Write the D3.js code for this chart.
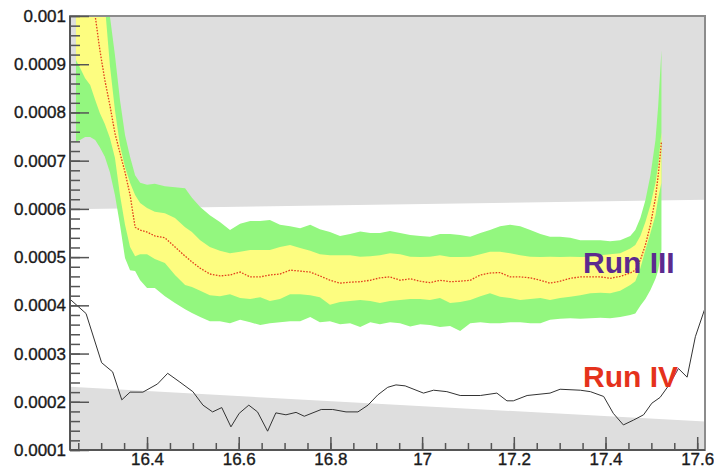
<!DOCTYPE html>
<html>
<head>
<meta charset="utf-8">
<script src="https://cdn.jsdelivr.net/npm/d3@7/dist/d3.min.js"></script>
<style>
  html, body { margin: 0; padding: 0; background: #fff; }
  svg { display: block; }
  text { font-family: "Liberation Sans", Arial, Helvetica, sans-serif; }
</style>
</head>
<body>
<svg id="chart" width="714" height="469"></svg>
<script>
// ---- data ---------------------------------------------------------------
// x positions of the expected-sensitivity band
const bandX = [16.245, 16.254, 16.265, 16.276, 16.287, 16.297, 16.308, 16.319, 16.330, 16.341,
  16.352, 16.363, 16.374, 16.385, 16.400, 16.417, 16.439, 16.461, 16.483, 16.498,
  16.516, 16.537, 16.559, 16.581, 16.603, 16.625, 16.647, 16.668, 16.690, 16.712,
  16.734, 16.756, 16.777, 16.799, 16.821, 16.843, 16.865, 16.887, 16.908, 16.930,
  16.952, 16.974, 16.996, 17.017, 17.039, 17.061, 17.083, 17.105, 17.127, 17.148,
  17.170, 17.192, 17.214, 17.236, 17.258, 17.279, 17.301, 17.323, 17.345, 17.367,
  17.389, 17.410, 17.432, 17.454, 17.465, 17.476, 17.487, 17.498, 17.509, 17.515, 17.522];

// +2 sigma (green, upper edge)
const green2Hi = [0.001120, 0.001120, 0.001120, 0.001120, 0.001120, 0.001095, 0.001054, 0.001000, 0.000919, 0.000826,
  0.000753, 0.000708, 0.000670, 0.000654, 0.000650, 0.000652, 0.000647, 0.000645, 0.000643, 0.000623,
  0.000604, 0.000587, 0.000573, 0.000556, 0.000569, 0.000575, 0.000575, 0.000577, 0.000567, 0.000564,
  0.000560, 0.000567, 0.000558, 0.000552, 0.000544, 0.000548, 0.000553, 0.000550, 0.000550, 0.000554,
  0.000550, 0.000546, 0.000544, 0.000542, 0.000548, 0.000548, 0.000546, 0.000542, 0.000550, 0.000556,
  0.000564, 0.000567, 0.000564, 0.000556, 0.000548, 0.000542, 0.000542, 0.000540, 0.000535, 0.000535,
  0.000535, 0.000533, 0.000535, 0.000544, 0.000556, 0.000581, 0.000618, 0.000670, 0.000743, 0.000815, 0.000929];

// +1 sigma (yellow, upper edge)
const yellow1Hi = [0.001075, 0.001075, 0.001075, 0.001075, 0.001075, 0.001064, 0.001023, 0.000898, 0.000805, 0.000732,
  0.000687, 0.000654, 0.000629, 0.000612, 0.000602, 0.000594, 0.000591, 0.000581, 0.000562, 0.000552,
  0.000535, 0.000521, 0.000513, 0.000508, 0.000511, 0.000515, 0.000515, 0.000515, 0.000521, 0.000525,
  0.000519, 0.000513, 0.000506, 0.000504, 0.000504, 0.000504, 0.000501, 0.000502, 0.000504, 0.000508,
  0.000506, 0.000501, 0.000500, 0.000501, 0.000504, 0.000500, 0.000500, 0.000501, 0.000506, 0.000511,
  0.000511, 0.000508, 0.000504, 0.000501, 0.000500, 0.000501, 0.000500, 0.000501, 0.000500, 0.000501,
  0.000504, 0.000506, 0.000508, 0.000518, 0.000525, 0.000544, 0.000573, 0.000608, 0.000654, 0.000691, 0.000759];

// median expectation (red dotted)
const median = [0.001178, 0.001147, 0.001106, 0.001054, 0.001000, 0.000930, 0.000867, 0.000815, 0.000757, 0.000716,
  0.000676, 0.000629, 0.000562, 0.000556, 0.000552, 0.000544, 0.000540, 0.000521, 0.000502, 0.000490,
  0.000477, 0.000465, 0.000461, 0.000463, 0.000469, 0.000459, 0.000459, 0.000463, 0.000465, 0.000473,
  0.000471, 0.000469, 0.000461, 0.000452, 0.000446, 0.000448, 0.000449, 0.000452, 0.000457, 0.000459,
  0.000452, 0.000455, 0.000450, 0.000447, 0.000452, 0.000449, 0.000450, 0.000452, 0.000463, 0.000467,
  0.000468, 0.000459, 0.000459, 0.000457, 0.000452, 0.000446, 0.000450, 0.000456, 0.000459, 0.000459,
  0.000459, 0.000456, 0.000460, 0.000467, 0.000473, 0.000494, 0.000525, 0.000567, 0.000623, 0.000670, 0.000739];

// -1 sigma (yellow, lower edge)
const yellow1Lo = [0.000909, 0.000892, 0.000871, 0.000857, 0.000826, 0.000799, 0.000776, 0.000747, 0.000706, 0.000629,
  0.000567, 0.000521, 0.000502, 0.000506, 0.000506, 0.000496, 0.000488, 0.000463, 0.000442, 0.000438,
  0.000430, 0.000421, 0.000419, 0.000423, 0.000415, 0.000413, 0.000417, 0.000409, 0.000413, 0.000423,
  0.000423, 0.000421, 0.000417, 0.000401, 0.000407, 0.000409, 0.000411, 0.000409, 0.000405, 0.000409,
  0.000411, 0.000413, 0.000413, 0.000411, 0.000415, 0.000405, 0.000407, 0.000411, 0.000419, 0.000425,
  0.000418, 0.000415, 0.000411, 0.000413, 0.000415, 0.000411, 0.000415, 0.000418, 0.000421, 0.000425,
  0.000426, 0.000425, 0.000430, 0.000442, 0.000450, 0.000477, 0.000515, 0.000550, 0.000587, 0.000623, 0.000654];

// -2 sigma (green, lower edge)
const green2Lo = [0.000739, 0.000743, 0.000749, 0.000749, 0.000743, 0.000728, 0.000708, 0.000676, 0.000629, 0.000567,
  0.000498, 0.000473, 0.000471, 0.000452, 0.000436, 0.000436, 0.000419, 0.000405, 0.000392, 0.000384,
  0.000376, 0.000367, 0.000367, 0.000363, 0.000370, 0.000365, 0.000359, 0.000363, 0.000365, 0.000367,
  0.000367, 0.000376, 0.000365, 0.000367, 0.000361, 0.000363, 0.000355, 0.000365, 0.000361, 0.000365,
  0.000363, 0.000356, 0.000361, 0.000359, 0.000355, 0.000357, 0.000347, 0.000363, 0.000365, 0.000363,
  0.000363, 0.000365, 0.000365, 0.000363, 0.000363, 0.000370, 0.000372, 0.000373, 0.000372, 0.000373,
  0.000374, 0.000373, 0.000376, 0.000380, 0.000383, 0.000399, 0.000413, 0.000432, 0.000455, 0.000473, 0.000515];

// measured curve, Run IV
const runIVx = [16.234, 16.267, 16.301, 16.325, 16.345, 16.363, 16.391, 16.423, 16.445, 16.470,
  16.500, 16.522, 16.543, 16.563, 16.583, 16.601, 16.622, 16.641, 16.663, 16.681,
  16.703, 16.725, 16.743, 16.780, 16.805, 16.834, 16.860, 16.882, 16.903, 16.925,
  16.943, 16.963, 17.003, 17.025, 17.054, 17.083, 17.127, 17.163, 17.185, 17.199,
  17.229, 17.279, 17.301, 17.345, 17.367, 17.396, 17.417, 17.439, 17.461, 17.483,
  17.501, 17.519, 17.541, 17.559, 17.578, 17.596, 17.617];
const runIVy = [0.000411, 0.000383, 0.000281, 0.000262, 0.000204, 0.000220, 0.000220, 0.000237, 0.000259, 0.000242,
  0.000221, 0.000193, 0.000179, 0.000188, 0.000148, 0.000176, 0.000193, 0.000179, 0.000139, 0.000177,
  0.000173, 0.000178, 0.000170, 0.000184, 0.000184, 0.000179, 0.000179, 0.000193, 0.000214, 0.000230,
  0.000235, 0.000233, 0.000218, 0.000224, 0.000221, 0.000213, 0.000213, 0.000218, 0.000202, 0.000202,
  0.000213, 0.000218, 0.000226, 0.000224, 0.000221, 0.000211, 0.000176, 0.000152, 0.000162, 0.000173,
  0.000197, 0.000209, 0.000238, 0.000269, 0.000251, 0.000335, 0.000394];

// excluded regions (grey): boundary at the left and right ends of the axis
const excludedAboveEdge = [0.000599, 0.000619];
const excludedBelowEdge = [0.000231, 0.000159];

// axis ranges and ticks
const xRange = [16.232, 17.617];
const yRange = [0.0001, 0.001];
const xTicks = [16.4, 16.6, 16.8, 17.0, 17.2, 17.4, 17.6];
const yTicks = [0.0001, 0.0002, 0.0003, 0.0004, 0.0005, 0.0006, 0.0007, 0.0008, 0.0009, 0.001];

// text labels
const labels = [
  { text: "Run III", x: 17.351, y: 0.000467, color: "#5b2a8f" },
  { text: "Run IV",  x: 17.351, y: 0.000231, color: "#e5321c" }
];

// ---- drawing ------------------------------------------------------------
const svg = d3.select("#chart");
const frame = { left: 70, right: 705, top: 16, bottom: 450 };

const x = d3.scaleLinear().domain(xRange).range([frame.left, frame.right]);
const y = d3.scaleLinear().domain(yRange).range([frame.bottom, frame.top]);

svg.append("defs").append("clipPath").attr("id", "plotclip")
  .append("rect").attr("x", frame.left).attr("y", frame.top)
  .attr("width", frame.right - frame.left).attr("height", frame.bottom - frame.top);

const plot = svg.append("g").attr("clip-path", "url(#plotclip)");

// grey excluded regions
plot.append("path")
  .attr("fill", "#dedede")
  .attr("d", d3.line()([
    [x(xRange[0]), y(yRange[1])], [x(xRange[1]), y(yRange[1])],
    [x(xRange[1]), y(excludedAboveEdge[1])], [x(xRange[0]), y(excludedAboveEdge[0])]
  ]) + "Z");
plot.append("path")
  .attr("fill", "#dedede")
  .attr("d", d3.line()([
    [x(xRange[0]), y(excludedBelowEdge[0])], [x(xRange[1]), y(excludedBelowEdge[1])],
    [x(xRange[1]), y(yRange[0])], [x(xRange[0]), y(yRange[0])]
  ]) + "Z");

const idx = d3.range(bandX.length);
const area = (lo, hi) => d3.area()
  .x(i => x(bandX[i])).y0(i => y(lo[i])).y1(i => y(hi[i]));

plot.append("path").attr("fill", "#93f77f").attr("d", area(green2Lo, green2Hi)(idx));
plot.append("path").attr("fill", "#fdfd80").attr("d", area(yellow1Lo, yellow1Hi)(idx));

plot.append("path")
  .attr("fill", "none")
  .attr("stroke", "#e2401c")
  .attr("stroke-width", 1.3)
  .attr("stroke-dasharray", "1.6,1.4")
  .attr("d", d3.line().x(i => x(bandX[i])).y(i => y(median[i]))(idx));

plot.append("path")
  .attr("fill", "none")
  .attr("stroke", "#333")
  .attr("stroke-width", 1)
  .attr("d", d3.line().x((d, i) => x(runIVx[i])).y((d, i) => y(runIVy[i]))(runIVx));

// labels
svg.selectAll("text.run").data(labels).join("text")
  .attr("class", "run")
  .attr("x", d => x(d.x)).attr("y", d => y(d.y))
  .attr("fill", d => d.color)
  .attr("font-size", 30).attr("font-weight", "bold")
  .text(d => d.text);

// frame
svg.append("rect")
  .attr("x", frame.left).attr("y", frame.top)
  .attr("width", frame.right - frame.left).attr("height", frame.bottom - frame.top)
  .attr("fill", "none").attr("stroke", "#8c8c8c").attr("stroke-width", 2);

// axes
const axisColor = "#555";
const yMinor = d3.range(0.0001, 0.00100001, 0.00002);
const xMinor = d3.range(16.25, 17.6001, 0.05);

const yAxisMinor = svg.append("g").attr("transform", `translate(${frame.left},0)`)
  .call(d3.axisLeft(y).tickValues(yMinor).tickSize(-10).tickFormat(""));
const yAxisMajor = svg.append("g").attr("transform", `translate(${frame.left},0)`)
  .call(d3.axisLeft(y).tickValues(yTicks).tickSize(-19).tickPadding(4)
    .tickFormat(d => String(+d.toFixed(4))));
const xAxisMinor = svg.append("g").attr("transform", `translate(0,${frame.bottom})`)
  .call(d3.axisBottom(x).tickValues(xMinor).tickSize(-7).tickFormat(""));
const xAxisMajor = svg.append("g").attr("transform", `translate(0,${frame.bottom})`)
  .call(d3.axisBottom(x).tickValues(xTicks).tickSize(-13).tickPadding(5)
    .tickFormat(d => String(+d.toFixed(1))));

[yAxisMinor, yAxisMajor, xAxisMinor, xAxisMajor].forEach(g => {
  g.select(".domain").remove();
  g.selectAll(".tick line").attr("stroke", axisColor).attr("stroke-width", 1.5);
  g.selectAll(".tick text").attr("fill", "#1a1a1a").attr("font-size", 17)
    .attr("stroke", "#1a1a1a").attr("stroke-width", 0.35)
    .attr("font-family", "'Liberation Sans', Arial, sans-serif");
});
// bottom labels sit just above the lower edge of the page
xAxisMajor.selectAll(".tick text").attr("dy", null).attr("y", 15);

// axis lines on left and bottom
svg.append("line").attr("x1", frame.left).attr("x2", frame.left)
  .attr("y1", frame.top).attr("y2", frame.bottom)
  .attr("stroke", axisColor).attr("stroke-width", 2);
svg.append("line").attr("x1", frame.left).attr("x2", frame.right)
  .attr("y1", frame.bottom).attr("y2", frame.bottom)
  .attr("stroke", axisColor).attr("stroke-width", 2);
</script>
</body>
</html>
